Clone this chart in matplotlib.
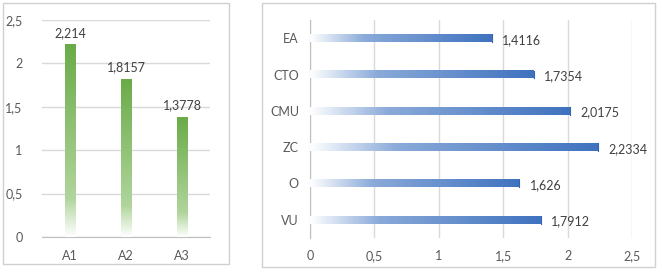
import numpy as np
import matplotlib.pyplot as plt
from matplotlib.colors import LinearSegmentedColormap
from matplotlib.patches import Rectangle

# datos
cat_v = ['A1', 'A2', 'A3']
val_v = [2.214, 1.8157, 1.3778]
lab_v = ['2,214', '1,8157', '1,3778']

cat_h = ['VU', 'O', 'ZC', 'CMU', 'CTO', 'EA']
val_h = [1.7912, 1.626, 2.2334, 2.0175, 1.7354, 1.4116]
lab_h = ['1,7912', '1,626', '2,2334', '2,0175', '1,7354', '1,4116']

ticks = [0, 0.5, 1, 1.5, 2, 2.5]
tick_lab = ['0', '0,5', '1', '1,5', '2', '2,5']

plt.rcParams['font.family'] = ['Lato', 'DejaVu Sans']
gris = '#595959'
rejilla = '#d9d9d9'

verde = LinearSegmentedColormap.from_list('v', [(0, 'white'), (0.2, '#b0d59c'), (1, '#6aab48')])
azul = LinearSegmentedColormap.from_list('a', [(0, 'white'), (0.3, '#8aaad9'), (1, '#3f72bf')])

fig = plt.figure(figsize=(6.62, 2.77), dpi=100)

# marcos de los paneles
W, H = 662, 277
for x0, y0, x1, y1 in [(3, 3, 229, 264), (262, 3, 655, 267)]:
	fig.patches.append(Rectangle((x0 / W, 1 - y1 / H), (x1 - x0) / W, (y1 - y0) / H,
		transform=fig.transFigure, fill=False, edgecolor='#d0d0d0', linewidth=1))

# panel izquierdo: columnas verticales
ax1 = fig.add_axes([42 / W, 40 / H, 168 / W, 217 / H])
ancho = 0.18
grad_v = np.linspace(0, 1, 256).reshape(-1, 1)
for i, v in enumerate(val_v):
	ax1.imshow(grad_v, cmap=verde, origin='lower', aspect='auto',
		extent=[i - ancho / 2, i + ancho / 2, 0, v], zorder=3)
	ax1.text(i, v + 0.07, lab_v[i], ha='center', va='bottom', fontsize=9, color='#404040')
ax1.set_xlim(-0.5, 2.5)
ax1.set_ylim(0, 2.5)
ax1.set_xticks(range(len(cat_v)))
ax1.set_xticklabels(cat_v)
ax1.set_yticks(ticks)
ax1.set_yticklabels(tick_lab)
ax1.grid(axis='y', color=rejilla, linewidth=1)
ax1.set_axisbelow(True)
for s in ['top', 'right', 'left']:
	ax1.spines[s].set_visible(False)
ax1.spines['bottom'].set_color('#bfbfbf')
ax1.tick_params(length=0, labelsize=9, labelcolor=gris, pad=9)
ax1.tick_params(axis='y', pad=14)

# panel derecho: barras horizontales
ax2 = fig.add_axes([310 / W, 39 / H, 322 / W, 218 / H])
alto = 0.22
grad_h = np.linspace(0, 1, 256).reshape(1, -1)
for i, v in enumerate(val_h):
	ax2.imshow(grad_h, cmap=azul, aspect='auto',
		extent=[0, v, i - alto / 2, i + alto / 2], zorder=3)
	ax2.plot([v, v], [i - alto / 2, i + alto / 2], color='#3565b0', linewidth=0.8, zorder=4)
	ax2.text(v + 0.08, i - 0.05, lab_h[i], ha='left', va='center', fontsize=9, color='#404040')
ax2.set_ylim(-0.5, 5.5)
ax2.set_xlim(0, 2.5)
ax2.set_yticks(range(len(cat_h)))
ax2.set_yticklabels(cat_h)
ax2.set_xticks(ticks)
ax2.set_xticklabels(tick_lab)
ax2.grid(axis='x', color=rejilla, linewidth=1)
ax2.set_axisbelow(True)
for s in ['top', 'right', 'bottom']:
	ax2.spines[s].set_visible(False)
ax2.spines['left'].set_color('#bfbfbf')
ax2.tick_params(length=0, labelsize=9, labelcolor=gris, pad=8)
ax2.tick_params(axis='x', pad=9)

plt.savefig('out.png', dpi=100)
